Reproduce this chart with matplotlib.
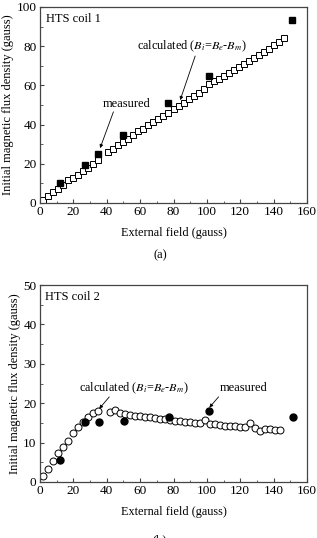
import matplotlib
matplotlib.use('Agg')
import matplotlib.pyplot as plt
from matplotlib.ticker import MultipleLocator

plt.rcParams.update({'font.family': ['Liberation Serif', 'DejaVu Serif'],
                     'font.size': 9, 'mathtext.fontset': 'stix'})

# ---- coil 1 data ----
calc1_x = [2, 5, 8, 11, 14, 17, 20, 23, 26, 29, 32, 35,
           41, 44, 47, 50, 53, 56, 59, 62, 65, 68, 71, 74, 77, 80, 83, 86, 89, 92,
           95, 98, 101, 104, 107, 110, 113, 116, 119, 122, 125, 128, 131, 134, 137,
           140, 143, 146]
calc1_y = [1.5, 3.5, 5.5, 7.0, 9.0, 11.5, 13.0, 14.5, 16.5, 18.0, 20.0, 22.0,
           26, 27.5, 29.5, 31, 32.5, 34.5, 36.5, 38, 40, 41.5, 43, 44.5, 46, 48, 49.5,
           51, 53, 54.5, 56, 58, 60.5, 62, 63.5, 65, 66.5, 68, 69.5, 71, 72.5, 74,
           75.5, 77, 78.5, 80.5, 82, 84]
meas1_x = [12, 27, 35, 50, 77, 101, 151]
meas1_y = [10, 19.5, 25, 34.5, 50.8, 64.8, 93.5]

# ---- coil 2 data ----
calc2_x = [2, 5, 8, 11, 14, 17, 20, 23, 26, 29, 32, 35,
           42, 45, 48, 51, 54, 57, 60, 63, 66, 69, 72, 75, 78, 81, 84, 87, 90, 93,
           96, 99, 102, 105, 108, 111, 114, 117, 120, 123, 126, 129, 132, 135, 138,
           141, 144]
calc2_y = [1.5, 3.2, 5.4, 7.3, 9.0, 10.5, 12.4, 13.9, 15.2, 16.6, 17.4, 18.0,
           17.8, 18.4, 17.4, 17.3, 17.0, 16.8, 16.7, 16.6, 16.4, 16.3, 16.1, 16.0,
           15.8, 15.6, 15.5, 15.3, 15.2, 15.0, 14.9, 15.8, 14.7, 14.6, 14.4, 14.3,
           14.2, 14.1, 14.0, 13.9, 15.0, 13.6, 13.0, 13.5, 13.4, 13.2, 13.2]
meas2_x = [12, 27, 35.5, 50.3, 77.3, 101, 151.4]
meas2_y = [5.6, 15.2, 15.3, 15.6, 16.6, 18.0, 16.4]

W, H = 317, 538
fig = plt.figure(figsize=(W / 100, H / 100), dpi=100)
calc_lbl = r'calculated ($B_i$=$B_e$-$B_m$)'
AX = '#444444'


def style(ax, ymax, ystep):
    ax.set_xlim(0, 160)
    ax.set_ylim(0, ymax)
    ax.xaxis.set_major_locator(MultipleLocator(20))
    ax.xaxis.set_minor_locator(MultipleLocator(10))
    ax.yaxis.set_major_locator(MultipleLocator(ystep))
    ax.yaxis.set_minor_locator(MultipleLocator(ystep / 2))
    ax.tick_params(which='both', direction='in', top=False, right=False,
                   color=AX, labelsize=9.5, pad=2.5)
    ax.tick_params(which='major', length=3)
    ax.tick_params(which='minor', length=1.8)
    for s in ax.spines.values():
        s.set_color(AX)
        s.set_linewidth(0.9)
    ax.set_xlabel('External field (gauss)', fontsize=8.8, labelpad=6)
    ax.set_ylabel('Initial magnetic flux density (gauss)', fontsize=9, labelpad=1.5)


def arrow(ax, tail, head):
    ax.annotate('', xy=head, xytext=tail,
                arrowprops=dict(arrowstyle='-|>', color='black', lw=0.6,
                                mutation_scale=5, shrinkA=0, shrinkB=0))


# top panel
ax1 = fig.add_axes([40 / W, 1 - 203 / H, 267 / W, 196 / H])
ax1.plot(calc1_x, calc1_y, 's', ms=4.8, mfc='white', mec='black', mew=0.7, ls='none')
ax1.plot(meas1_x, meas1_y, 's', ms=4.8, mfc='black', mec='black', ls='none')
style(ax1, 100, 20)
ax1.text(3.5, 94, 'HTS coil 1', fontsize=9, va='center')
ax1.text(91, 80, calc_lbl, fontsize=8.8, ha='center', va='center')
arrow(ax1, (93, 75), (84, 52.5))
ax1.text(52, 50.5, 'measured', fontsize=9, ha='center', va='center')
arrow(ax1, (44, 46.5), (36, 28))
fig.text(160 / W, 1 - 255 / H, '(a)', fontsize=9, ha='center', va='center')

# bottom panel
ax2 = fig.add_axes([40 / W, 1 - 482 / H, 267 / W, 197 / H])
ax2.plot(calc2_x, calc2_y, 'o', ms=5, mfc='white', mec='black', mew=0.7, ls='none')
ax2.plot(meas2_x, meas2_y, 'o', ms=5, mfc='black', mec='black', ls='none')
style(ax2, 50, 10)
ax2.text(3, 47, 'HTS coil 2', fontsize=9, va='center')
ax2.text(56.5, 23.9, calc_lbl, fontsize=8.8, ha='center', va='center')
arrow(ax2, (41.5, 21.6), (35.5, 18.6))
ax2.text(122, 23.9, 'measured', fontsize=9, ha='center', va='center')
arrow(ax2, (107, 21.6), (101.5, 18.9))
fig.text(160 / W, 1 - 540 / H, '(b)', fontsize=9, ha='center', va='center')

fig.savefig('out.png', dpi=100, facecolor='white')
